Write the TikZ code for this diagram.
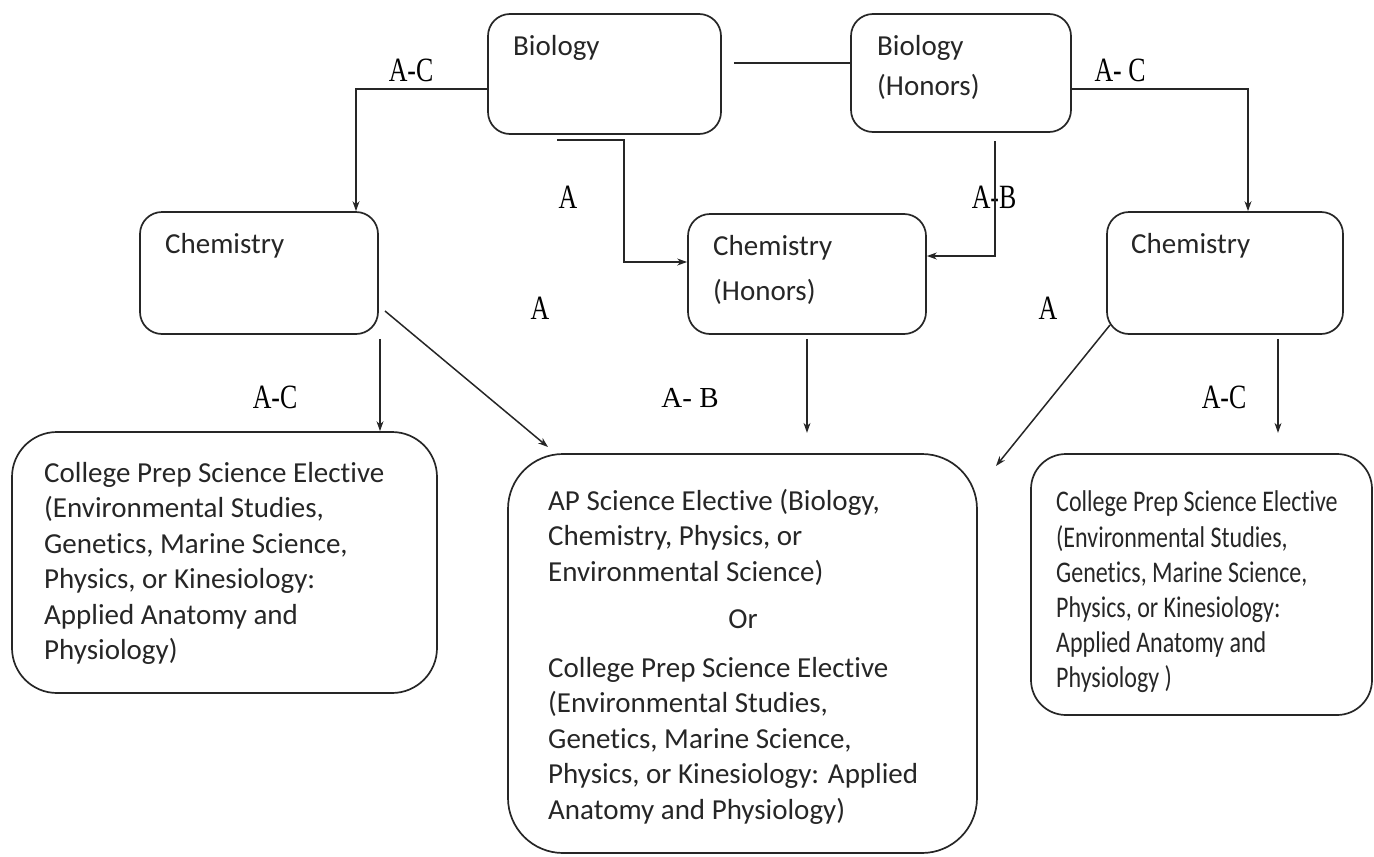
\documentclass[tikz,border=0pt]{standalone}
\usepackage{fontspec}
\setmainfont{Carlito}[Ligatures=NoCommon]
\newfontfamily\lblfont{Liberation Serif}
\usetikzlibrary{arrows.meta}
\definecolor{ink}{HTML}{262626}
\begin{document}
\begin{tikzpicture}[x=1pt,y=-1pt,
  box/.style={draw=ink, line width=1.7pt, rounded corners=22pt, inner sep=0pt},
  conn/.style={draw=ink, line width=1.5pt},
  thin/.style={draw=ink, line width=1.1pt},
  tip/.style={-{Stealth[length=10pt,width=7pt]}},
  lbl/.style={font=\lblfont\fontsize{34}{34}\selectfont, text=black, inner sep=0pt, anchor=base},
  lbls/.style={font=\lblfont\fontsize{29}{29}\selectfont, text=black, inner sep=0pt, anchor=base},
  txt/.style={font=\fontsize{29}{35.5}\selectfont, text=ink, inner sep=0pt},
  blk/.style={txt, anchor=north west}
]
\useasboundingbox (0,0) rectangle (1374,857);

% boxes
\node[box, minimum width=233pt, minimum height=120pt] (bio)   at (604.5,74) {};
\node[box, minimum width=220pt, minimum height=118pt] (bioH)  at (961,73) {};
\node[box, minimum width=238pt, minimum height=122pt] (chemL) at (259,273) {};
\node[box, minimum width=238pt, minimum height=120pt] (chemH) at (807,274) {};
\node[box, minimum width=236pt, minimum height=122pt] (chemR) at (1225,273) {};
\node[box, rounded corners=45pt, minimum width=425pt, minimum height=261pt] (botL) at (224.5,562.5) {};
\node[box, rounded corners=55pt, minimum width=469pt, minimum height=399pt] (mid)  at (742.5,653.5) {};
\node[box, rounded corners=35pt, minimum width=341pt, minimum height=261pt] (botR) at (1201.5,584.5) {};

% box texts
\node[txt, anchor=base west] (tbio)  at (513,55) {Biology};
\node[txt, anchor=base west] (tbioH1) at (877,55) {Biology};
\node[txt, anchor=base west] (tbioH2) at (877,95) {(Honors)};
\node[txt, anchor=base west] (tchemL) at (165,253) {Chemistry};
\node[txt, anchor=base west] (tchemH1) at (713,255) {Chemistry};
\node[txt, anchor=base west] (tchemH2) at (713,300) {(Honors)};
\node[txt, anchor=base west] (tchemR) at (1131,253) {Chemistry};

\node[blk] (tbotL) at (44,457) {\begin{tabular}{@{}l@{}}College Prep Science Elective\\(Environmental Studies,\\Genetics, Marine Science,\\Physics, or Kinesiology:\\Applied Anatomy and\\Physiology)\end{tabular}};
\node[blk] (tmid1) at (548,485) {\begin{tabular}{@{}l@{}}AP Science Elective (Biology,\\Chemistry, Physics, or\\Environmental Science)\end{tabular}};
\node[txt, anchor=base] (tor) at (743,628) {Or};
\node[blk] (tmid2) at (548,652) {\begin{tabular}{@{}l@{}}College Prep Science Elective\\(Environmental Studies,\\Genetics, Marine Science,\\Physics, or Kinesiology: Applied\\Anatomy and Physiology)\end{tabular}};
\node[blk, font=\fontsize{30}{35.2}\selectfont] (tbotR) at (1056,487) {\scalebox{0.8}[1]{\begin{tabular}{@{}l@{}}College Prep Science Elective\\(Environmental Studies,\\Genetics, Marine Science,\\Physics, or Kinesiology:\\Applied Anatomy and\\Physiology )\end{tabular}}};

% connector labels
\node[lbl] (l1) at (411,81)  {\scalebox{0.76}[1]{A-C}};
\node[lbl] (l2) at (1120,81) {\scalebox{0.76}[1]{A- C}};
\node[lbl] (l3) at (568,208) {\scalebox{0.76}[1]{A}};
\node[lbl] (l4) at (994,208) {\scalebox{0.76}[1]{A-B}};
\node[lbl] (l5) at (540,319) {\scalebox{0.76}[1]{A}};
\node[lbl] (l6) at (1048,319) {\scalebox{0.76}[1]{A}};
\node[lbl] (l7) at (275,408) {\scalebox{0.76}[1]{A-C}};
\node[lbls] (l8) at (690,407) {A- B};
\node[lbl] (l9) at (1224,408) {\scalebox{0.76}[1]{A-C}};

% free ends
\coordinate (s1) at (557,140);
\coordinate (s2) at (995,141);
\coordinate (d1s) at (385,311);
\coordinate (d1e) at (548,447);
\coordinate (d2s) at (1110,325);
\coordinate (d2e) at (996,466);

% connectors
\draw[conn, tip] ([yshift=-15pt]bio.west) -| ([xshift=97pt]chemL.north);
\draw[conn] ([xshift=12pt,yshift=11pt]bio.east) -- ([yshift=11pt]bio.east -| bioH.west);
\draw[conn, tip] ([yshift=-16pt]bioH.east) -| ([xshift=23pt]chemR.north);
\draw[conn, tip] (s1) -- ++(67,0) |- ([yshift=12pt]chemH.west);
\draw[conn, tip] (s2) |- ([yshift=18pt]chemH.east);
\draw[conn, tip] (d1s) -- (d1e);
\draw[conn, tip] (d2s) -- (d2e);
\draw[thin, tip] ([xshift=121pt,yshift=-4pt]chemL.south) -- ([xshift=121pt]chemL.south |- botL.north);
\draw[thin, tip] ([yshift=-4pt]chemH.south) -- ++(0,94);
\draw[thin, tip] ([xshift=53pt,yshift=-4pt]chemR.south) -- ++(0,94);
\end{tikzpicture}
\end{document}
